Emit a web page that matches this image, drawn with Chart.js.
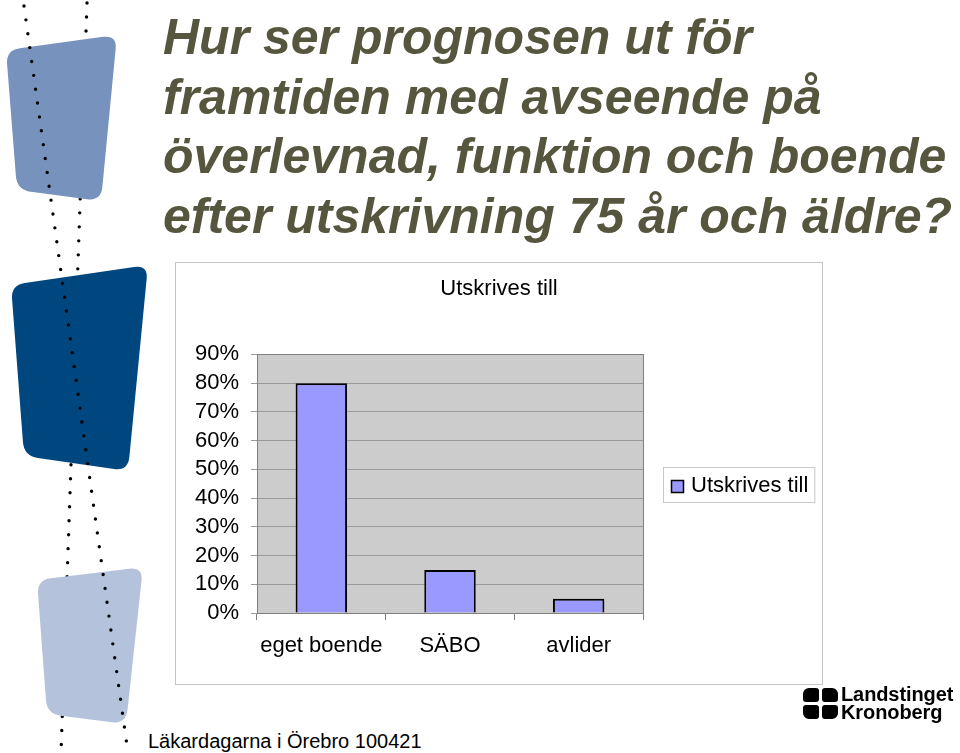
<!DOCTYPE html>
<html lang="sv">
<head>
<meta charset="utf-8">
<title>Utskrives till</title>
<script src="https://cdn.jsdelivr.net/npm/chart.js@4/dist/chart.umd.min.js"></script>
<style>
    html, body { margin: 0; padding: 0; }
    body {
        width: 960px;
        height: 753px;
        position: relative;
        overflow: hidden;
        background: #fff;
        font-family: "Liberation Sans", Arial, sans-serif;
    }
    #deco { position: absolute; left: 0; top: 0; }
    .slide-title {
        position: absolute;
        left: 163px;
        top: 8px;
        margin: 0;
        font-size: 50px;
        line-height: 59.5px;
        font-weight: bold;
        font-style: italic;
        color: #56563f;
        white-space: nowrap;
    }
    .chart-box {
        position: absolute;
        left: 175px;
        top: 262px;
        width: 646px;
        height: 421px;
        border: 1px solid #c4c4c4;
        background: #fff;
    }
    .chart-box canvas { display: block; }
    .footer {
        position: absolute;
        left: 148px;
        top: 731px;
        font-size: 20px;
        line-height: 20px;
        color: #000;
    }
    .logo { position: absolute; left: 803px; top: 685px; }
    .logo .mark { position: absolute; left: 0; top: 3px; width: 36px; height: 30px; }
    .logo .mark span { position: absolute; width: 16px; height: 14px; background: #000; }
    .logo .name {
        position: absolute;
        left: 38px;
        top: 0;
        font-size: 20px;
        line-height: 18px;
        font-weight: bold;
        letter-spacing: -0.1px;
        white-space: nowrap;
    }
</style>
</head>
<body>
<svg id="deco" width="170" height="753"></svg>

<h1 class="slide-title">Hur ser prognosen ut för<br>framtiden med avseende på<br>överlevnad, funktion och boende<br>efter utskrivning 75 år och äldre?</h1>

<div class="chart-box"><canvas id="utskrivChart" width="646" height="421"></canvas></div>

<div class="footer">Läkardagarna i Örebro 100421</div>

<div class="logo">
    <div class="mark">
        <span style="left:0;top:0;border-radius:6px 3px 3px 3px"></span>
        <span style="left:19px;top:0;border-radius:3px 6px 3px 3px"></span>
        <span style="left:0;top:17px;border-radius:3px 3px 3px 6px"></span>
        <span style="left:19px;top:17px;border-radius:3px 3px 6px 3px"></span>
    </div>
    <div class="name">Landstinget<br>Kronoberg</div>
</div>

<script>
const categories = ['eget boende', 'SÄBO', 'avlider'];
const shares = [80, 15, 5];
const seriesName = 'Utskrives till';
const tickValues = [0, 10, 20, 30, 40, 50, 60, 70, 80, 90];
const tickLabels = ['0%', '10%', '20%', '30%', '40%', '50%', '60%', '70%', '80%', '90%'];

// decoration on the left: rounded blocks and two dotted lines
function roundedPath(pts, r) {
    let d = '';
    pts.forEach((p, i) => {
        const prev = pts[(i + pts.length - 1) % pts.length];
        const next = pts[(i + 1) % pts.length];
        const l1 = Math.hypot(prev[0] - p[0], prev[1] - p[1]);
        const l2 = Math.hypot(next[0] - p[0], next[1] - p[1]);
        const a = [p[0] + (prev[0] - p[0]) * r / l1, p[1] + (prev[1] - p[1]) * r / l1];
        const b = [p[0] + (next[0] - p[0]) * r / l2, p[1] + (next[1] - p[1]) * r / l2];
        d += (i === 0 ? 'M' : 'L') + a[0] + ' ' + a[1] + ' Q' + p[0] + ' ' + p[1] + ' ' + b[0] + ' ' + b[1] + ' ';
    });
    return d + 'Z';
}

function drawDeco() {
    const svg = document.getElementById('deco');
    const dots = (x1, y1, x2, y2) =>
        `<line x1="${x1}" y1="${y1}" x2="${x2}" y2="${y2}" stroke="#000" stroke-width="3.4" stroke-linecap="round" stroke-dasharray="0 14"/>`;
    const blocks = [
        { pts: [[6, 50], [117, 35], [101, 201], [17, 190]], fill: '#7692bd' },
        { pts: [[11, 285], [148, 265], [128, 471], [24, 456]], fill: '#00467f' },
        { pts: [[37, 580], [143, 567], [126, 724], [47, 714]], fill: '#b4c3db' }
    ];
    let html = dots(87, 3, 61, 753);
    blocks.forEach(b => {
        html += `<path d="${roundedPath(b.pts, 14)}" fill="${b.fill}"/>`;
    });
    html += dots(24, 6, 128, 753);
    svg.innerHTML = html;
}

const plotBackground = {
    id: 'plotBackground',
    beforeDraw(chart) {
        const { ctx, chartArea: a } = chart;
        ctx.save();
        ctx.fillStyle = '#cccccc';
        ctx.fillRect(a.left, a.top, a.right - a.left, a.bottom - a.top);
        ctx.restore();
    },
    afterDatasetsDraw(chart) {
        const { ctx, chartArea: a } = chart;
        ctx.save();
        ctx.strokeStyle = '#808080';
        ctx.lineWidth = 1;
        ctx.strokeRect(Math.round(a.left) + 0.5, Math.round(a.top) + 0.5,
            Math.round(a.right - a.left), Math.round(a.bottom - a.top));
        ctx.restore();
    }
};

// legend in a framed box to the right of the plot
const boxedLegend = {
    id: 'boxedLegend',
    afterDraw(chart) {
        const { ctx, chartArea: a } = chart;
        const ds = chart.data.datasets[0];
        ctx.save();
        ctx.font = '22px "Liberation Sans", Arial, sans-serif';
        const textW = ctx.measureText(ds.label).width;
        const x = a.right + 20, y = 204, h = 35;
        const w = 8 + 12 + 8 + textW + 6;
        ctx.fillStyle = '#fff';
        ctx.fillRect(x, y, w, h);
        ctx.strokeStyle = '#c8c8c8';
        ctx.lineWidth = 1;
        ctx.strokeRect(x + 0.5, y + 0.5, w, h);
        ctx.fillStyle = ds.backgroundColor;
        ctx.fillRect(x + 8.5, y + 13.5, 12, 12);
        ctx.strokeStyle = '#000';
        ctx.lineWidth = 1.5;
        ctx.strokeRect(x + 8.5, y + 13.5, 12, 12);
        ctx.fillStyle = '#000';
        ctx.textBaseline = 'middle';
        ctx.fillText(ds.label, x + 28, y + h / 2 + 1);
        ctx.restore();
    }
};

drawDeco();

new Chart(document.getElementById('utskrivChart').getContext('2d'), {
    type: 'bar',
    data: {
        labels: categories,
        datasets: [{
            label: seriesName,
            data: shares,
            backgroundColor: '#9999ff',
            borderColor: '#000',
            borderWidth: 2,
            categoryPercentage: 1,
            barPercentage: 0.4
        }]
    },
    options: {
        responsive: false,
        animation: false,
        devicePixelRatio: 1,
        plugins: {
            legend: { display: false },
            tooltip: { enabled: false },
            title: {
                display: true,
                text: seriesName,
                color: '#000',
                font: { family: '"Liberation Sans", Arial, sans-serif', size: 22, weight: 'normal' },
                padding: { top: 13, bottom: 52 }
            }
        },
        scales: {
            x: {
                grid: { drawOnChartArea: false, drawTicks: true, tickLength: 7, color: '#808080' },
                border: { display: true, color: '#808080' },
                ticks: {
                    color: '#000',
                    padding: 13,
                    font: { family: '"Liberation Sans", Arial, sans-serif', size: 22 }
                },
                afterFit: s => { s.height = 71; }
            },
            y: {
                min: 0,
                max: 90,
                afterBuildTicks: s => { s.ticks = tickValues.map(v => ({ value: v })); },
                grid: { color: '#9a9a9a', tickLength: 6, drawTicks: true },
                border: { display: true, color: '#808080' },
                ticks: {
                    color: '#000',
                    padding: 12,
                    autoSkip: false,
                    font: { family: '"Liberation Sans", Arial, sans-serif', size: 22 },
                    callback: (v, i) => tickLabels[i]
                },
                afterFit: s => { s.width = 81; }
            },
            // empty axis on the right keeps room for the legend box
            side: {
                type: 'linear',
                position: 'right',
                display: true,
                grid: { display: false, drawTicks: false },
                border: { display: false },
                ticks: { display: false },
                afterFit: s => { s.width = 179; }
            }
        }
    },
    plugins: [plotBackground, boxedLegend]
});
</script>
</body>
</html>
